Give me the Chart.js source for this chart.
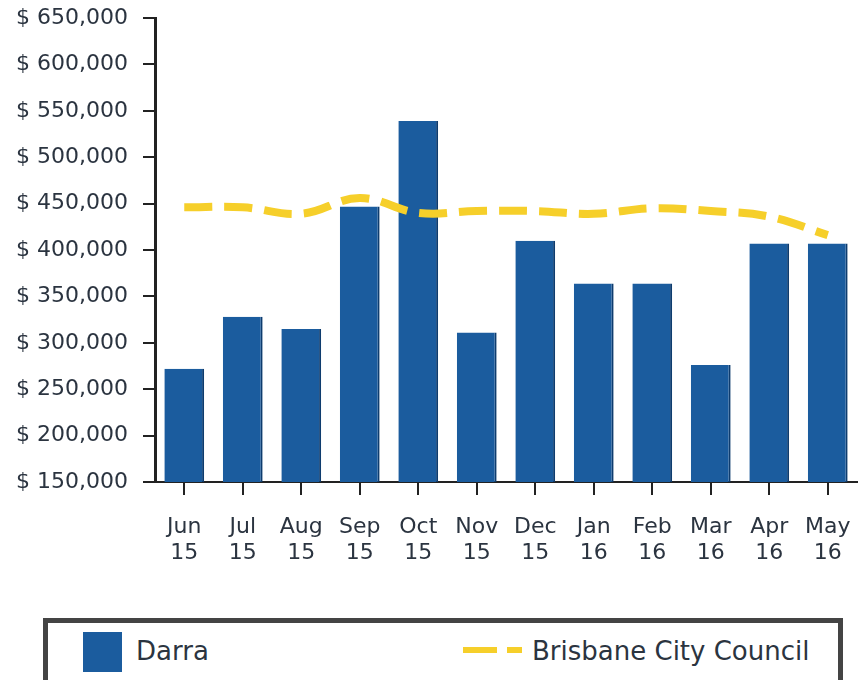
<!DOCTYPE html>
<html>
<head>
<meta charset="utf-8">
<script src="https://cdn.jsdelivr.net/npm/chart.js@4"></script>
<style>
  body { margin: 0; background: #fff; width: 863px; height: 680px; overflow: hidden; position: relative; font-family: "DejaVu Sans", sans-serif; }
  #wrap { position: absolute; left: 0; top: 0; width: 863px; height: 590px; }
  #legend { position: absolute; left: 43px; top: 618px; width: 790px; height: 60px; border: 5px solid #444; color: #2b3440; font-size: 26px; }
  .abs { position: absolute; }
  .sw { left: 83px; top: 632px; width: 39px; height: 40px; background: #1b5c9e; }
  .txt { top: 636px; line-height: 30px; font-size: 26px; color: #2b3440; }
  .dash { top: 647px; height: 6px; background: #f6cf2a; }
</style>
</head>
<body>
<div id="wrap"><canvas id="chart" width="863" height="590"></canvas></div>
<div id="legend"></div>
<div class="abs sw"></div>
<span class="abs txt" style="left:136px">Darra</span>
<div class="abs dash" style="left:463px;width:34px"></div>
<div class="abs dash" style="left:507px;width:15px"></div>
<span class="abs txt" style="left:532px">Brisbane City Council</span>
<script>
const months = [['Jun', '15'], ['Jul', '15'], ['Aug', '15'], ['Sep', '15'], ['Oct', '15'], ['Nov', '15'],
                ['Dec', '15'], ['Jan', '16'], ['Feb', '16'], ['Mar', '16'], ['Apr', '16'], ['May', '16']];
const darra = [272000, 328000, 315000, 447000, 539000, 311000, 410000, 364000, 364000, 276000, 407000, 407000];
const brisbane = [446000, 446000, 439000, 456000, 440000, 442000, 442000, 439000, 445000, 442000, 436000, 416000];
const yMin = 150000, yMax = 650000, yStep = 50000;

const textColor = '#2b3440';
const axisColor = '#222';

new Chart(document.getElementById('chart').getContext('2d'), {
    data: {
        labels: months,
        datasets: [{
            type: 'line',
            label: 'Brisbane City Council',
            data: brisbane,
            borderColor: '#f6cf2a',
            borderWidth: 8,
            borderDash: [28, 12],
            borderCapStyle: 'butt',
            tension: 0.4,
            pointRadius: 0,
            order: 0
        }, {
            type: 'bar',
            label: 'Darra',
            data: darra,
            backgroundColor: '#1b5c9e',
            borderColor: '#0e3c6e',
            borderWidth: { right: 2, top: 0, left: 0, bottom: 0 },
            categoryPercentage: 1,
            barPercentage: 0.68,
            order: 1
        }]
    },
    options: {
        responsive: false,
        animation: false,
        layout: { padding: { top: 18, right: 6 } },
        plugins: { legend: { display: false }, tooltip: { enabled: false } },
        scales: {
            x: {
                offset: true,
                grid: { display: true, drawOnChartArea: false, offset: false, tickLength: 13, color: axisColor, lineWidth: 2 },
                border: { display: true, color: axisColor, width: 2 },
                ticks: { color: textColor, font: { family: 'DejaVu Sans', size: 22, lineHeight: 1.18 }, padding: 19, maxRotation: 0, autoSkip: false },
                afterFit: s => { s.height = 108; s.paddingLeft = 0; s.paddingRight = 0; }
            },
            y: {
                min: yMin,
                max: yMax,
                grid: { display: true, drawOnChartArea: false, tickLength: 12, color: axisColor, lineWidth: 2 },
                border: { display: true, color: axisColor, width: 3 },
                ticks: {
                    stepSize: yStep,
                    color: textColor,
                    font: { family: 'DejaVu Sans', size: 22 },
                    padding: 15,
                    callback: v => '$ ' + v.toLocaleString('en-US')
                },
                afterFit: s => { s.width = 155; s.paddingTop = 0; s.paddingBottom = 0; }
            }
        }
    }
});
</script>
</body>
</html>
